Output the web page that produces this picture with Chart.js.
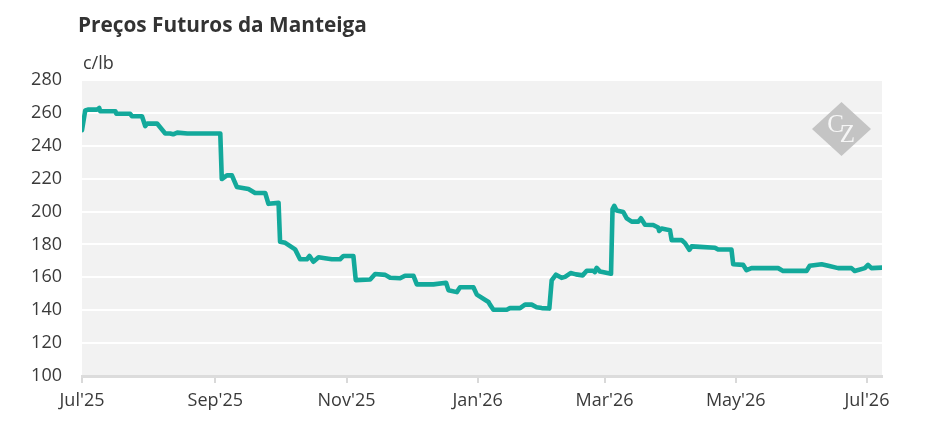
<!DOCTYPE html>
<html>
<head>
<meta charset="utf-8">
<script src="https://cdn.jsdelivr.net/npm/chart.js@4.4.1/dist/chart.umd.min.js"></script>
<style>
  html, body { margin: 0; padding: 0; background: #ffffff; }
  #wrap { position: relative; width: 945px; height: 443px; overflow: hidden; }
  #chart { position: absolute; left: 0; top: 0; }
  .txt { position: absolute; font-family: "Open Sans", sans-serif; color: #333333; white-space: nowrap; line-height: 1; }
  #title { left: 78px; top: 14px; font-size: 20.8px; font-weight: 700; }
  #unit { left: 83px; top: 53px; font-size: 18px; font-weight: 400; color: #3a3a3a; }
</style>
</head>
<body>
<div id="wrap">
  <canvas id="chart" width="945" height="443"></canvas>
  <div id="title" class="txt">Preços Futuros da Manteiga</div>
  <div id="unit" class="txt">c/lb</div>
</div>
<script>
// Days since 1 Jul 2025
const days = [0, 1.5, 3, 7, 8, 8.5, 15.5, 16, 22.4, 23.2, 27.9, 29.4, 30.3, 34.9, 38.7, 41, 42.4, 44.3, 49, 64.3,
  65, 67.4, 69.7, 72, 77.4, 80.5, 85.2, 86.7, 91.4, 92.1, 94.5, 99.1, 101.4, 104.6, 105.8, 107.6, 110, 113, 116.2, 120,
  121.6, 126.2, 127.3, 134, 136.3, 141, 143.3, 147.9, 150.2, 154.1, 155.7, 163.4, 169.3, 170.4, 174.3, 175.8, 182, 183.6, 189, 189.7,
  191.3, 197.5, 199, 203.7, 206, 209.1, 211.4, 213.8, 217.3, 218.4, 220.4, 223, 224.6, 227.2, 229.7, 232.8, 234.7, 237.7, 238.5, 239.3,
  240.9, 246, 246.7, 247.5, 248.6, 251.7, 253.3, 255.6, 258.7, 259.9, 261.8, 265.6, 267.9, 268.4, 269.5, 273.4, 274.2, 278.8, 280.4, 282.4,
  283.5, 287.3, 294.3, 295.8, 302, 302.8, 307.4, 309, 311.3, 323.7, 326, 336.9, 338.4, 343.9, 347, 351.6, 357.8, 359.3, 364, 365.5,
  367.1, 372];
const prices = [249.5, 261.5, 262, 262, 263, 261, 261, 259.5, 259.5, 258, 258, 252, 253.5, 253.5, 247.5, 247.5, 247, 248, 247.5, 247.5,
  219.8, 222, 222, 215, 213.7, 211.3, 211.3, 204.7, 205.3, 181.7, 181, 177, 171, 171, 173, 169.5, 172.2, 171.6, 171, 171,
  173, 173, 158.3, 158.7, 162, 161.5, 159.7, 159.4, 161, 161, 155.7, 155.7, 156.7, 152.2, 151, 154, 154, 149.5, 145, 143.4,
  140.3, 140.3, 141.3, 141.3, 143.4, 143.4, 141.8, 141.3, 141, 158.1, 161.6, 159.7, 160.3, 162.6, 161.8, 161.2, 164, 164, 163.2, 165.8,
  163.5, 162.2, 201.5, 203.5, 200.6, 199.7, 195.9, 193.9, 193.9, 195.9, 192, 191.8, 190.3, 188.2, 189.7, 188.7, 182.6, 182.7, 180.8, 176.7,
  178.8, 178.5, 178, 176.9, 176.9, 168, 167.6, 164.3, 165.6, 165.6, 163.9, 163.9, 167, 168, 167, 165.6, 165.6, 163.9, 165.6, 167.6,
  165.6, 165.9];
const monthTicks = [0, 62, 123, 184, 243, 304, 365];
const monthLabels = ["Jul'25", "Sep'25", "Nov'25", "Jan'26", "Mar'26", "May'26", "Jul'26"];
const yTicks = [100, 120, 140, 160, 180, 200, 220, 240, 260, 280];

const plotBg = {
  id: 'plotBg',
  beforeDraw(chart) {
    const { ctx, chartArea: a } = chart;
    ctx.save();
    ctx.fillStyle = '#f2f2f2';
    ctx.fillRect(a.left, a.top, a.right - a.left, a.bottom - a.top);
    ctx.restore();
  }
};
const watermark = {
  id: 'watermark',
  afterDatasetsDraw(chart) {
    const { ctx, chartArea: a } = chart;
    const cx = a.right - 40.5, cy = a.top + 49, hw = 29.5, hh = 27;
    ctx.save();
    ctx.fillStyle = '#c4c4c4';
    ctx.beginPath();
    ctx.moveTo(cx, cy - hh);
    ctx.lineTo(cx + hw, cy);
    ctx.lineTo(cx, cy + hh);
    ctx.lineTo(cx - hw, cy);
    ctx.closePath();
    ctx.fill();
    ctx.fillStyle = '#f6f6f6';
    ctx.textAlign = 'center';
    ctx.textBaseline = 'alphabetic';
    ctx.font = '25px "Liberation Serif", serif';
    ctx.fillText('C', cx - 6, cy + 3);
    ctx.font = '25px "Liberation Serif", serif';
    ctx.fillText('Z', cx + 6, cy + 13);
    ctx.restore();
  }
};

new Chart(document.getElementById('chart'), {
  type: 'line',
  data: {
    datasets: [{
      data: days.map((d, i) => ({ x: d, y: prices[i] })),
      borderColor: '#13a99b',
      borderWidth: 4.6,
      pointRadius: 0,
      tension: 0,
      borderJoinStyle: 'round',
      borderCapStyle: 'round',
      fill: false
    }]
  },
  options: {
    responsive: false,
    animation: false,
    devicePixelRatio: 1,
    layout: { padding: { top: 80, right: 63, left: 0, bottom: 0 } },
    plugins: { legend: { display: false }, tooltip: { enabled: false } },
    scales: {
      x: {
        type: 'linear',
        min: 0,
        max: 372,
        afterBuildTicks: (s) => { s.ticks = monthTicks.map(v => ({ value: v })); },
        afterFit: (s) => { s.height = 67; },
        ticks: {
          autoSkip: false,
          maxRotation: 0,
          padding: 7,
          color: '#3a3a3a',
          font: { family: '"Open Sans", sans-serif', size: 18 },
          callback: (v) => { const i = monthTicks.indexOf(v); return i >= 0 ? monthLabels[i] : ''; }
        },
        grid: { drawOnChartArea: false, drawTicks: true, tickLength: 7, color: '#d9d9d9', lineWidth: 2 },
        border: { display: true, color: '#dcdcdc', width: 3 }
      },
      y: {
        min: 100,
        max: 280,
        afterBuildTicks: (s) => { s.ticks = yTicks.map(v => ({ value: v })); },
        afterFit: (s) => { s.width = 82; },
        ticks: {
          padding: 20,
          color: '#3a3a3a',
          font: { family: '"Open Sans", sans-serif', size: 18 }
        },
        grid: { color: '#ffffff', lineWidth: 2, drawTicks: false },
        border: { display: false }
      }
    }
  },
  plugins: [plotBg, watermark]
});
</script>
</body>
</html>
